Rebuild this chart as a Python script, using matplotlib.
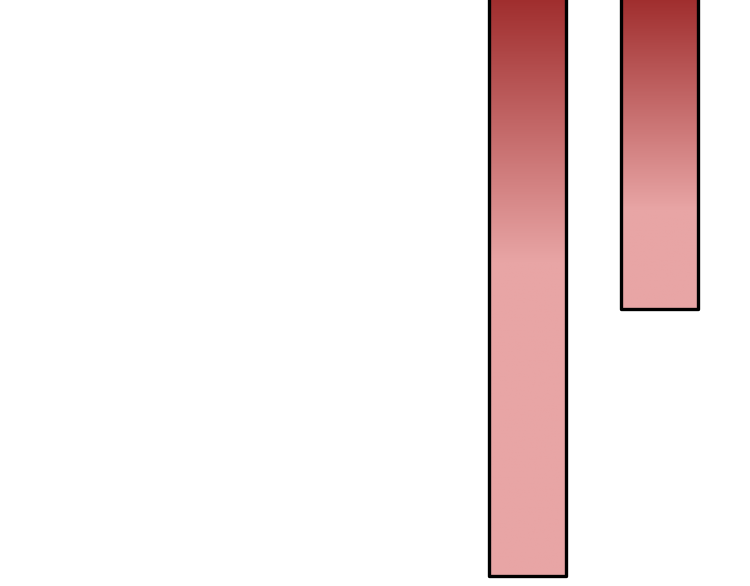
import matplotlib.pyplot as plt
from matplotlib.colors import LinearSegmentedColormap
import numpy as np

# Categories and values (bars hang down from a baseline above the visible area)
categories = ["A", "B"]
values = [-98.3, -52.9]

fig = plt.figure(figsize=(7.5, 5.86), dpi=100)
ax = fig.add_axes([0, 0, 1, 1])
ax.axis("off")

x = np.arange(len(categories))
bar_width = 0.58
bars = ax.bar(x, values, width=bar_width, color="none", edgecolor="black",
              linewidth=2.4, joinstyle="round", zorder=3)

cmap = LinearSegmentedColormap.from_list("redfade", ["#a02e2e", "#e8a5a5"])

# fade length (in y units from the top) for each bar
fade = [45, 36]
yy = np.linspace(-100, 0, 400)
for bar, f in zip(bars, fade):
    t = np.clip(-yy / f, 0, 1)
    grad = t[:, None]
    x0 = bar.get_x()
    im = ax.imshow(grad, cmap=cmap, vmin=0, vmax=1, aspect="auto",
                   origin="lower", extent=(x0, x0 + bar.get_width(), -100, 0),
                   zorder=2)
    im.set_clip_path(bar)

ax.set_xlim(-3.98, 1.68)
ax.set_ylim(-100, -0.3)

plt.savefig("out.png", dpi=100)
